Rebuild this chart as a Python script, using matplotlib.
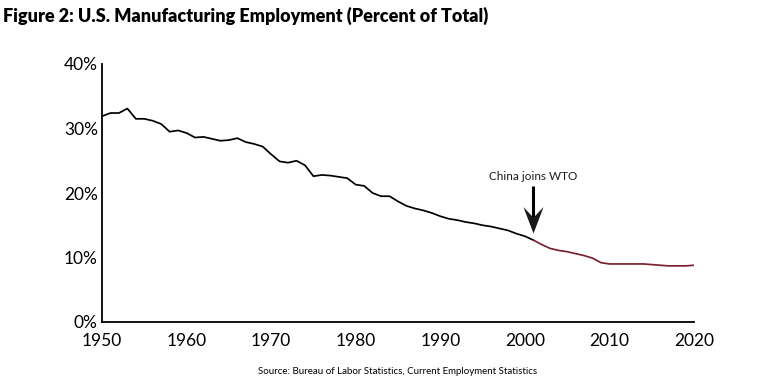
import matplotlib
matplotlib.use("Agg")
import matplotlib.pyplot as plt
from matplotlib.path import Path
from matplotlib.ticker import FuncFormatter

# manufacturing share of total employment
years = list(range(1950, 2021))
share = [
    31.9, 32.4, 32.4, 33.1, 31.5, 31.5, 31.2, 30.7, 29.5, 29.7,  # 1950s
    29.3, 28.6, 28.7, 28.4, 28.1, 28.2, 28.5, 27.9, 27.6, 27.2,  # 1960s
    26.0, 24.9, 24.7, 25.0, 24.3, 22.6, 22.8, 22.7, 22.5, 22.3,  # 1970s
    21.3, 21.1, 20.0, 19.5, 19.5, 18.7, 18.0, 17.6, 17.3, 16.9,  # 1980s
    16.4, 16.0, 15.8, 15.5, 15.3, 15.0, 14.8, 14.5, 14.2, 13.7,  # 1990s
    13.3, 12.7, 12.0, 11.4, 11.1, 10.9, 10.6, 10.3, 9.9, 9.2,    # 2000s
    9.0, 9.0, 9.0, 9.0, 9.0, 8.9, 8.8, 8.7, 8.7, 8.7, 8.8,       # 2010s + 2020
]
x_ticks = [1950, 1960, 1970, 1980, 1990, 2000, 2010, 2020]
y_ticks = [0, 10, 20, 30, 40]
wto_year = 2001

plt.rcParams['font.family'] = ['Lato', 'DejaVu Sans']

fig = plt.figure(figsize=(7.61, 3.92), dpi=100)
ax = fig.add_axes([102 / 761, 1 - 322 / 392, (694 - 102) / 761, (322 - 64) / 392])

# black before WTO entry, dark red after
split = years.index(wto_year)
ax.plot(years[:split + 1], share[:split + 1], color='black', lw=1.25,
        solid_joinstyle='round')
ax.plot(years[split:], share[split:], color='#7b2230', lw=1.25,
        solid_joinstyle='round')

# annotation arrow with a notched head
tip_y = 13.8
ax.plot([wto_year, wto_year], [21.1, tip_y + 2], color='black', lw=2.2,
        solid_capstyle='butt')
head = Path([(0, 0), (-0.38, 1), (0, 0.6), (0.38, 1), (0, 0)],
            [Path.MOVETO, Path.LINETO, Path.LINETO, Path.LINETO, Path.CLOSEPOLY])
ax.plot([wto_year], [tip_y], marker=head, markersize=38, color='#1a1a1a',
        markeredgewidth=0)
ax.text(wto_year, 22.6, 'China joins WTO', ha='center', va='center',
        fontsize=8.5, color='#1a1a1a')

ax.set_xlim(1950, 2020)
ax.set_ylim(0, 40)
ax.set_xticks(x_ticks)
ax.set_yticks(y_ticks)
ax.yaxis.set_major_formatter(FuncFormatter(lambda v, p: f'{v:.0f}%'))
ax.tick_params(length=0, labelsize=12.5, colors='black')
ax.tick_params(axis='x', pad=8)
ax.tick_params(axis='y', pad=3)
for side in ['top', 'right']:
    ax.spines[side].set_visible(False)
for side in ['left', 'bottom']:
    ax.spines[side].set_linewidth(1.3)

fig.text(0.004, 1 - 16 / 392, 'Figure 2: U.S. Manufacturing Employment (Percent of Total)',
         fontsize=13, fontweight='heavy', va='center', ha='left')
fig.text(398 / 761, 1 - 372 / 392,
         'Source: Bureau of Labor Statistics, Current Employment Statistics',
         fontsize=7, ha='center', va='center')

fig.savefig('out.png', dpi=100)
